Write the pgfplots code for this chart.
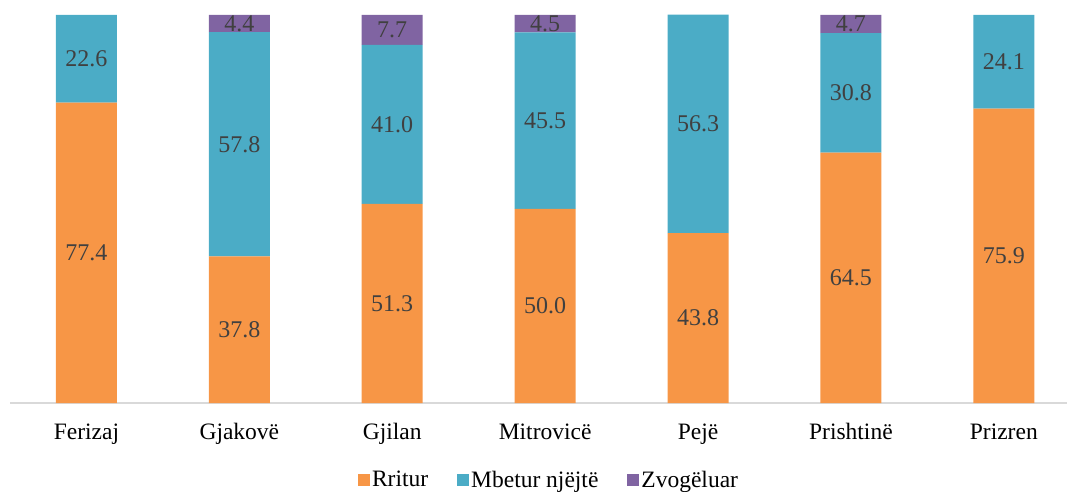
\documentclass[border=0pt]{standalone}
\usepackage{pgfplots}
\pgfplotsset{compat=1.18}
\usepackage{fontspec}
\setmainfont{Liberation Serif}
\definecolor{cOr}{HTML}{F79646}
\definecolor{cBl}{HTML}{4BACC6}
\definecolor{cPu}{HTML}{8064A2}
\definecolor{cLab}{HTML}{404040}
\definecolor{cAx}{HTML}{D9D9D9}
\begin{document}
\begin{tikzpicture}
\useasboundingbox (-10pt,-88pt) rectangle (1057pt,403pt);
\begin{axis}[
  scale only axis, width=1057pt, height=388.4pt,
  ybar stacked, bar width=61pt,
  xmin=-0.5, xmax=6.413, ymin=0, ymax=100.1,
  axis x line*=bottom, hide y axis,
  axis line style={cAx, line width=1.5pt, -},
  xtick=data,
  xticklabels={Ferizaj,Gjakovë,Gjilan,Mitrovicë,Pejë,Prishtinë,Prizren},
  xtick style={draw=none},
  xticklabel style={anchor=base, yshift=-36pt, font=\fontsize{23.5}{27}\selectfont, text=black},
  /pgf/number format/assume math mode=true,
  visualization depends on={rawy \as \rawyval},
  nodes near coords={\ifdim\rawyval pt>0.05pt\pgfmathprintnumber[fixed,fixed zerofill,precision=1,assume math mode=true]{\rawyval}\fi},
  every node near coord/.append style={anchor=center, font=\fontsize{24}{27}\selectfont, text=cLab},
  legend style={at={(0.510,-0.198)}, anchor=center, draw=none, legend columns=-1,
    font=\fontsize{23.5}{27}\selectfont,
    /tikz/every even column/.append style={column sep=27pt}},
  legend image code/.code={\fill[#1] (0pt,-6pt) rectangle (12pt,6pt);},
]
\addplot[fill=cOr, draw=none] coordinates {(0,77.4) (1,37.8) (2,51.3) (3,50.0) (4,43.8) (5,64.5) (6,75.9)};
\addplot[fill=cBl, draw=none] coordinates {(0,22.6) (1,57.8) (2,41.0) (3,45.5) (4,56.3) (5,30.8) (6,24.1)};
\addplot[fill=cPu, draw=none] coordinates {(0,0) (1,4.4) (2,7.7) (3,4.5) (4,0) (5,4.7) (6,0)};
\legend{Rritur, Mbetur njëjtë, Zvogëluar}
\end{axis}
\end{tikzpicture}
\end{document}
